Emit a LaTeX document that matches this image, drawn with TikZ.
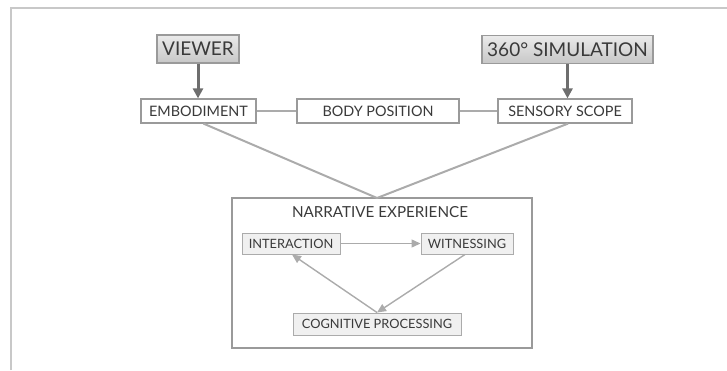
\documentclass[tikz,border=0pt]{standalone}
\usepackage{fontspec}
\setmainfont{Lato}
\usepackage{tikz}
\usetikzlibrary{arrows.meta, positioning, calc}
\definecolor{vtext}{HTML}{3A3A3A}
\definecolor{vdark}{HTML}{6E6E6E}
\definecolor{vline}{HTML}{ABABAB}
\definecolor{vborder}{HTML}{9A9A9A}
\definecolor{vfill}{HTML}{F0F0F0}
\definecolor{vframe}{HTML}{C8C8C8}
\tikzset{
  topbox/.style={draw=vborder, line width=0.6pt, top color=white!92!black,
                 bottom color=white!78!black, text=vtext, font=\fontsize{9.5}{10}\selectfont,
                 minimum height=14pt, inner sep=0pt},
  midbox/.style={draw=vborder, line width=0.6pt, fill=white, text=vtext,
                 font=\fontsize{7.2}{8}\selectfont, minimum height=12pt, inner sep=0pt},
  innbox/.style={draw=vline, line width=0.5pt, fill=vfill, text=vtext,
                 font=\fontsize{6.4}{7}\selectfont, minimum height=10.5pt, inner sep=0pt},
  darr/.style={-{Triangle[length=5pt, width=5pt]}, line width=1.5pt, vdark},
  lline/.style={line width=1pt, vline},
  larr/.style={-{Triangle[length=4.5pt, width=4pt]}, line width=0.7pt, vline},
}
\begin{document}
\begin{tikzpicture}[x=0.5pt, y=-0.5pt]
  \useasboundingbox (0,0) rectangle (727,370);
  %% page frame (cut at right and bottom)
  \draw[vframe, line width=0.9pt] (11,370) -- (11,8) -- (727,8);

  %% sources
  \node[topbox, minimum width=41pt] (viewer) at (198,49) {VIEWER};
  \node[topbox, minimum width=85.5pt] (sim) at (567.5,49.5) {360° SIMULATION};

  %% middle row
  \node[midbox, minimum width=57.5pt] (emb) at (198.5,111) {EMBODIMENT};
  \node[midbox, minimum width=81pt] (body) at (378,111) {BODY POSITION};
  \node[midbox, minimum width=67pt] (sens) at (565,111) {SENSORY SCOPE};

  \draw[darr] (viewer.south) -- (viewer.south |- emb.north);
  \draw[darr] (sim.south) -- (sim.south |- sens.north);
  \draw[lline] (emb.east) -- (body.west);
  \draw[lline] (body.east) -- (sens.west);

  %% narrative block
  \node[draw=vborder, line width=0.7pt, minimum width=150pt, minimum height=75pt,
        inner sep=0pt] (narr) at (382,273) {};
  \node[text=vtext, font=\fontsize{7.6}{8}\selectfont] (ntitle) at (380,212) {NARRATIVE EXPERIENCE};
  \coordinate (apex) at (377,198);
  \draw[lline] ($(emb.south)+(5,0)$) -- (apex) -- ($(sens.south)+(3,0)$);

  \node[innbox, minimum width=49pt] (inter) at (291,243.5) {INTERACTION};
  \node[innbox, minimum width=46pt] (wit) at (467,243.5) {WITNESSING};
  \node[innbox, minimum width=84pt, minimum height=11pt] (cog) at (377,324) {COGNITIVE PROCESSING};

  \draw[larr] (inter.east) -- (wit.west);
  \draw[larr] ($(wit.south)+(-2,0)$) -- (cog.north);
  \draw[larr] (cog.north) -- ($(inter.south)+(1,0)$);
\end{tikzpicture}
\end{document}
